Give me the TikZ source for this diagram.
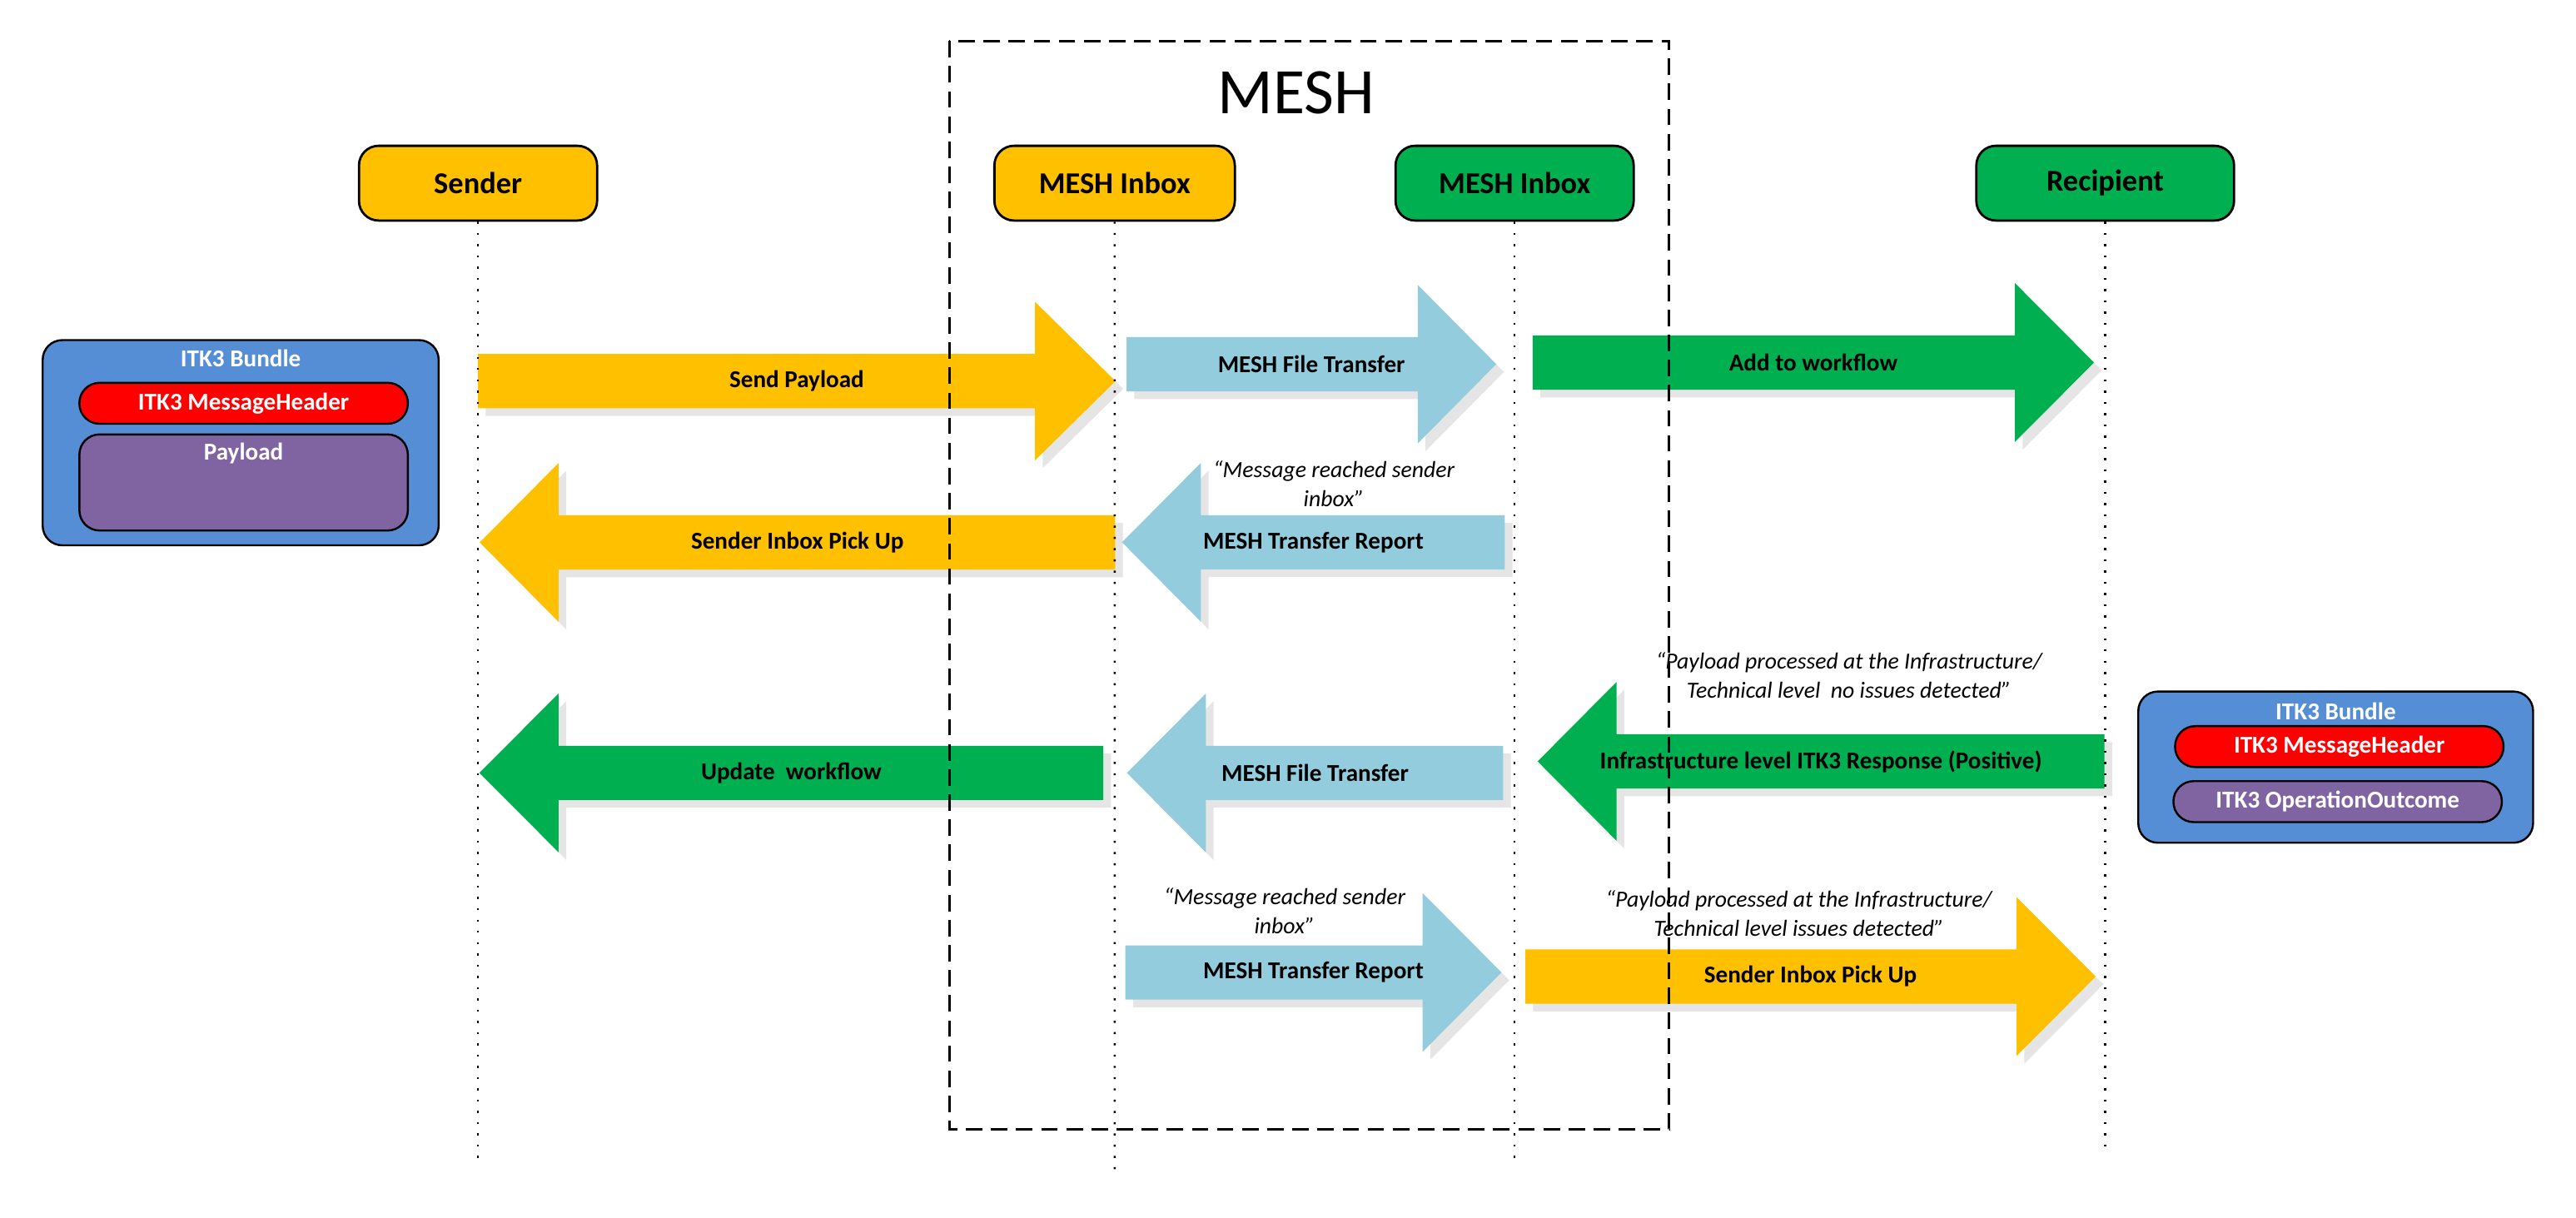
\documentclass[tikz,border=0pt]{standalone}
\usepackage{fontspec}
\setmainfont{Carlito}
\usepackage{tikz}

\definecolor{meshyellow}{HTML}{FFC000}
\definecolor{meshgreen}{HTML}{00B050}
\definecolor{meshaqua}{HTML}{93CDDD}
\definecolor{bundleblue}{HTML}{558ED5}
\definecolor{bundlepurple}{HTML}{8064A2}
\definecolor{arrowshadow}{HTML}{E5E5E5}

\newcommand{\flowarrow}[7]{%
  \fill[arrowshadow, shift={(4.7,4.7)}] (#1,#4-16.5) -- (#2,#4-16.5) -- (#2,#4-48.3) -- (#3,#4) -- (#2,#4+48.3) -- (#2,#4+16.5) -- (#1,#4+16.5) -- cycle;
  \fill[#5] (#1,#4-16.5) -- (#2,#4-16.5) -- (#2,#4-48.3) -- (#3,#4) -- (#2,#4+48.3) -- (#2,#4+16.5) -- (#1,#4+16.5) -- cycle;
  \node[flowlabel] (#6) at ({(#1+#3)/2},#4) {#7};
}

\begin{document}
\begin{tikzpicture}[x=0.02cm, y=-0.02cm,
  actor/.style={draw=black, line width=0.8pt, rounded corners=6.8pt, minimum height=25.9pt, font=\fontsize{10.5}{12.6}\selectfont\bfseries},
  lifeline/.style={line width=0.7pt, dash pattern=on 0.7pt off 3.2pt},
  meshzone/.style={line width=0.9pt, dash pattern=on 5.7pt off 3pt},
  flowlabel/.style={font=\fontsize{8.4}{10}\selectfont\bfseries},
  note/.style={font=\fontsize{8}{10}\selectfont\itshape, align=center},
  bundlebox/.style={draw=black, line width=0.7pt, fill=bundleblue, rounded corners=6.8pt},
  bundlepart/.style={draw=black, line width=0.7pt, rounded corners=7pt, minimum width=113.8pt, font=\fontsize{8.4}{10}\selectfont\bfseries, text=white},
  bundletext/.style={font=\fontsize{8.4}{10}\selectfont\bfseries, text=white}]
\useasboundingbox (0,0) rectangle (1568.1,741);

\flowarrow{291}{630}{679}{232}{meshyellow}{sendpayload}{Send Payload}
\flowarrow{685.8}{863}{910.8}{221.7}{meshaqua}{filetransferA}{MESH File Transfer}
\flowarrow{933}{1226.6}{1274.7}{220.7}{meshgreen}{addworkflow}{Add to workflow}
\flowarrow{678.8}{340}{292}{330.2}{meshyellow}{pickupA}{Sender Inbox Pick Up}
\flowarrow{916}{731}{683}{330.1}{meshaqua}{reportA}{MESH Transfer Report}
\flowarrow{671.6}{340}{291.8}{470.5}{meshgreen}{updateworkflow}{Update~ workflow}
\flowarrow{915}{734}{686}{470.5}{meshaqua}{filetransferB}{MESH File Transfer}
\flowarrow{1281}{984}{936}{463.5}{meshgreen}{itkresponse}{Infrastructure level ITK3 Response (Positive)}
\flowarrow{685}{866}{914}{592}{meshaqua}{reportB}{MESH Transfer Report}
\flowarrow{928.5}{1227.6}{1275.7}{594.5}{meshyellow}{pickupB}{Sender Inbox Pick Up}

\node[actor, fill=meshyellow, minimum width=82.5pt] (sender) at (291,111.5) {Sender};
\node[actor, fill=meshyellow, minimum width=83.3pt] (inboxA) at (678.5,111.5) {MESH Inbox};
\node[actor, fill=meshgreen, minimum width=82.5pt] (inboxB) at (922,111.5) {MESH Inbox};
\node[actor, fill=meshgreen, minimum width=89.3pt] (recipient) at (1281.5,111.5) {Recipient};

\coordinate (senderend) at (291,710);
\coordinate (inboxAend) at (678.6,712);
\coordinate (inboxBend) at (922,708.6);
\coordinate (recipientend) at (1281.5,701);
\draw[lifeline] (sender.south) -- (senderend);
\draw[lifeline] (inboxA.south) -- (inboxAend);
\draw[lifeline] (inboxB.south) -- (inboxBend);
\draw[lifeline] (recipient.south) -- (recipientend);

\draw[meshzone] (578,25) rectangle (1016,687.6);
\node[font=\fontsize{22.5}{27}\selectfont, anchor=base] (meshtitle) at (789,69.3) {MESH};

\node[note] (reachedA) at (812,294.5) {“Message reached sender\\inbox”};
\node[note] (noissues) at (1125.5,411) {“Payload processed at the Infrastructure/\\Technical level~ no issues detected”};
\node[note] (reachedB) at (782,554.5) {“Message reached sender\\inbox”};
\node[note] (issues) at (1095,556) {“Payload processed at the Infrastructure/\\Technical level issues detected”};

\node[bundlebox, minimum width=137.2pt, minimum height=71.1pt] (bundleA) at (146.5,269.5) {};
\node[bundletext] (bundleAtitle) at (146.5,218) {ITK3 Bundle};
\node[bundlepart, fill=red, minimum height=14.2pt] (headerA) at (148.3,245.5) {ITK3 MessageHeader};
\node[bundlepart, fill=bundlepurple, minimum height=33.3pt] (payloadbox) at (148.3,293.7) {};
\node[bundletext] (payloadtext) at (148.3,276) {Payload};

\node[bundlebox, minimum width=136.8pt, minimum height=52.4pt] (bundleB) at (1421.8,467) {};
\node[bundletext] (bundleBtitle) at (1421.8,433) {ITK3 Bundle};
\node[bundlepart, fill=red, minimum height=14.2pt] (headerB) at (1424,454.5) {ITK3 MessageHeader};
\node[bundlepart, fill=bundlepurple, minimum height=14.2pt] (outcome) at (1423,488) {ITK3 OperationOutcome};
\end{tikzpicture}
\end{document}
